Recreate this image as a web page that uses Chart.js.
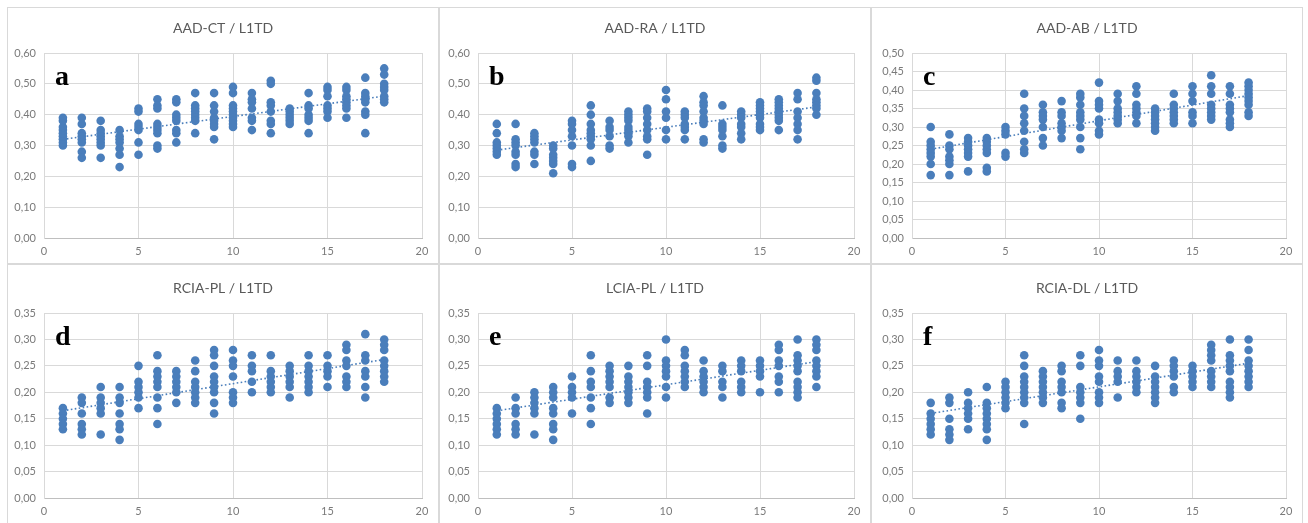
<!DOCTYPE html>
<html>
<head>
<meta charset="utf-8">
<script src="https://cdn.jsdelivr.net/npm/chart.js@4"></script>
<style>
  body { margin: 0; background: #fff; width: 1308px; height: 523px; overflow: hidden; position: relative; }
  .panel { position: absolute; width: 432px; box-sizing: border-box; border: 1px solid #d9d9d9; background: #fff; }
  .panel canvas { position: absolute; left: 0; top: 0; }
</style>
</head>
<body>
<div class="panel" style="left:7px;top:7px;height:257px"><canvas id="cA" width="430" height="255"></canvas></div>
<div class="panel" style="left:439px;top:7px;height:257px"><canvas id="cB" width="430" height="255"></canvas></div>
<div class="panel" style="left:871px;top:7px;height:257px"><canvas id="cC" width="430" height="255"></canvas></div>
<div class="panel" style="left:7px;top:264px;height:262px"><canvas id="cD" width="430" height="258"></canvas></div>
<div class="panel" style="left:439px;top:264px;height:262px"><canvas id="cE" width="430" height="258"></canvas></div>
<div class="panel" style="left:871px;top:264px;height:262px"><canvas id="cF" width="430" height="258"></canvas></div>
<script>
// Valores: una lista por cada x (1..18)
const xValues = [1, 2, 3, 4, 5, 6, 7, 8, 9, 10, 11, 12, 13, 14, 15, 16, 17, 18];

const aadCT = [
  [0.30, 0.31, 0.32, 0.33, 0.34, 0.35, 0.36, 0.38, 0.39],
  [0.39, 0.37, 0.34, 0.33, 0.32, 0.31, 0.28, 0.26],
  [0.38, 0.35, 0.34, 0.33, 0.32, 0.31, 0.30, 0.26],
  [0.35, 0.33, 0.32, 0.31, 0.29, 0.27, 0.23],
  [0.42, 0.41, 0.37, 0.36, 0.35, 0.31, 0.27],
  [0.45, 0.43, 0.42, 0.37, 0.36, 0.35, 0.34, 0.30, 0.29],
  [0.45, 0.44, 0.40, 0.39, 0.38, 0.35, 0.34, 0.31],
  [0.47, 0.43, 0.42, 0.41, 0.40, 0.39, 0.38, 0.34],
  [0.47, 0.43, 0.41, 0.39, 0.38, 0.37, 0.36, 0.32],
  [0.49, 0.47, 0.43, 0.42, 0.41, 0.40, 0.39, 0.38, 0.37, 0.36],
  [0.47, 0.45, 0.44, 0.42, 0.39, 0.38, 0.35],
  [0.51, 0.50, 0.44, 0.43, 0.41, 0.38, 0.37, 0.34],
  [0.42, 0.41, 0.40, 0.39, 0.38, 0.37],
  [0.47, 0.43, 0.42, 0.40, 0.39, 0.38, 0.34],
  [0.49, 0.48, 0.46, 0.43, 0.42, 0.41, 0.39],
  [0.49, 0.48, 0.46, 0.45, 0.44, 0.43, 0.42, 0.39],
  [0.52, 0.47, 0.46, 0.45, 0.44, 0.41, 0.40, 0.34],
  [0.55, 0.53, 0.50, 0.49, 0.48, 0.46, 0.45, 0.44]
];

const aadRA = [
  [0.37, 0.34, 0.31, 0.30, 0.29, 0.28, 0.27],
  [0.37, 0.32, 0.31, 0.30, 0.28, 0.27, 0.24, 0.23],
  [0.34, 0.33, 0.32, 0.31, 0.28, 0.27, 0.24],
  [0.30, 0.29, 0.27, 0.26, 0.25, 0.24, 0.21],
  [0.38, 0.37, 0.35, 0.33, 0.30, 0.24, 0.23],
  [0.43, 0.40, 0.37, 0.35, 0.34, 0.33, 0.32, 0.30, 0.25],
  [0.38, 0.36, 0.35, 0.33, 0.30, 0.29],
  [0.41, 0.40, 0.39, 0.38, 0.36, 0.35, 0.34, 0.33, 0.31],
  [0.42, 0.41, 0.39, 0.37, 0.35, 0.33, 0.32, 0.27],
  [0.48, 0.45, 0.41, 0.39, 0.35, 0.32],
  [0.41, 0.40, 0.39, 0.37, 0.36, 0.35, 0.32],
  [0.46, 0.44, 0.43, 0.41, 0.39, 0.38, 0.37, 0.32, 0.31],
  [0.43, 0.37, 0.36, 0.35, 0.33, 0.30, 0.29],
  [0.41, 0.40, 0.39, 0.37, 0.36, 0.34, 0.32],
  [0.44, 0.43, 0.42, 0.41, 0.40, 0.39, 0.37, 0.36, 0.35],
  [0.45, 0.44, 0.43, 0.42, 0.41, 0.40, 0.39, 0.38, 0.35],
  [0.47, 0.45, 0.41, 0.39, 0.37, 0.35, 0.32],
  [0.52, 0.51, 0.47, 0.45, 0.44, 0.43, 0.42, 0.40]
];

const aadAB = [
  [0.30, 0.26, 0.25, 0.24, 0.23, 0.22, 0.20, 0.17],
  [0.28, 0.25, 0.24, 0.22, 0.21, 0.20, 0.17],
  [0.27, 0.26, 0.25, 0.24, 0.23, 0.22, 0.18],
  [0.27, 0.26, 0.25, 0.24, 0.23, 0.19, 0.18],
  [0.30, 0.29, 0.28, 0.23, 0.22],
  [0.39, 0.35, 0.33, 0.31, 0.29, 0.26, 0.24, 0.23],
  [0.36, 0.34, 0.33, 0.32, 0.30, 0.27, 0.25],
  [0.37, 0.34, 0.33, 0.31, 0.30, 0.29, 0.27],
  [0.39, 0.38, 0.36, 0.34, 0.33, 0.32, 0.30, 0.27, 0.24],
  [0.42, 0.37, 0.36, 0.35, 0.32, 0.31, 0.29, 0.28],
  [0.39, 0.37, 0.35, 0.34, 0.33, 0.32, 0.31],
  [0.41, 0.39, 0.36, 0.35, 0.34, 0.33, 0.31],
  [0.35, 0.34, 0.33, 0.32, 0.31, 0.30, 0.29],
  [0.39, 0.36, 0.35, 0.34, 0.33, 0.32, 0.31],
  [0.41, 0.39, 0.37, 0.34, 0.33, 0.31],
  [0.44, 0.41, 0.39, 0.36, 0.35, 0.34, 0.33, 0.32],
  [0.41, 0.39, 0.36, 0.35, 0.34, 0.32, 0.31, 0.30],
  [0.42, 0.41, 0.40, 0.39, 0.38, 0.37, 0.36, 0.34, 0.33]
];

const rciaPL = [
  [0.17, 0.16, 0.15, 0.14, 0.13],
  [0.19, 0.18, 0.16, 0.14, 0.13, 0.12],
  [0.21, 0.19, 0.18, 0.17, 0.16, 0.12],
  [0.21, 0.19, 0.18, 0.16, 0.14, 0.13, 0.11],
  [0.25, 0.22, 0.21, 0.20, 0.19, 0.17],
  [0.27, 0.24, 0.23, 0.22, 0.21, 0.19, 0.17, 0.14],
  [0.24, 0.23, 0.22, 0.21, 0.20, 0.18],
  [0.26, 0.24, 0.22, 0.21, 0.20, 0.19, 0.18],
  [0.28, 0.27, 0.25, 0.23, 0.22, 0.21, 0.20, 0.18, 0.16],
  [0.28, 0.26, 0.25, 0.23, 0.20, 0.19, 0.18],
  [0.27, 0.25, 0.24, 0.22, 0.20],
  [0.27, 0.24, 0.23, 0.22, 0.21, 0.20],
  [0.25, 0.24, 0.23, 0.22, 0.21, 0.19],
  [0.27, 0.25, 0.24, 0.23, 0.22, 0.21, 0.20],
  [0.27, 0.25, 0.24, 0.23, 0.21],
  [0.29, 0.28, 0.26, 0.25, 0.23, 0.22, 0.21],
  [0.31, 0.27, 0.26, 0.24, 0.23, 0.21, 0.19],
  [0.30, 0.29, 0.28, 0.26, 0.25, 0.24, 0.23, 0.22]
];

const lciaPL = [
  [0.17, 0.16, 0.15, 0.14, 0.13, 0.12],
  [0.19, 0.17, 0.16, 0.14, 0.13, 0.12],
  [0.20, 0.19, 0.18, 0.17, 0.16, 0.12],
  [0.21, 0.20, 0.19, 0.17, 0.16, 0.14, 0.13, 0.11],
  [0.23, 0.21, 0.20, 0.19, 0.16],
  [0.27, 0.24, 0.22, 0.21, 0.19, 0.17, 0.14],
  [0.25, 0.24, 0.23, 0.22, 0.21, 0.19, 0.18],
  [0.25, 0.23, 0.22, 0.21, 0.20, 0.19, 0.18],
  [0.27, 0.25, 0.22, 0.21, 0.20, 0.19, 0.16],
  [0.30, 0.26, 0.25, 0.24, 0.23, 0.21, 0.19],
  [0.28, 0.27, 0.25, 0.24, 0.23, 0.22, 0.21],
  [0.26, 0.24, 0.23, 0.22, 0.21, 0.20],
  [0.25, 0.24, 0.22, 0.21, 0.19],
  [0.26, 0.25, 0.24, 0.22, 0.21, 0.20],
  [0.26, 0.25, 0.24, 0.23, 0.20],
  [0.29, 0.28, 0.26, 0.25, 0.23, 0.22, 0.20],
  [0.30, 0.27, 0.26, 0.25, 0.24, 0.22, 0.21, 0.20, 0.19],
  [0.30, 0.29, 0.28, 0.26, 0.25, 0.24, 0.23, 0.21]
];

const rciaDL = [
  [0.18, 0.16, 0.15, 0.14, 0.13, 0.12],
  [0.19, 0.18, 0.15, 0.13, 0.12, 0.11],
  [0.20, 0.18, 0.17, 0.16, 0.15, 0.13],
  [0.21, 0.18, 0.17, 0.16, 0.15, 0.14, 0.13, 0.11],
  [0.22, 0.21, 0.20, 0.19, 0.18, 0.17],
  [0.27, 0.25, 0.23, 0.22, 0.21, 0.20, 0.19, 0.18, 0.14],
  [0.24, 0.23, 0.22, 0.21, 0.20, 0.19, 0.18],
  [0.25, 0.24, 0.22, 0.21, 0.20, 0.18, 0.17],
  [0.27, 0.25, 0.21, 0.20, 0.19, 0.18, 0.15],
  [0.28, 0.26, 0.25, 0.23, 0.22, 0.20, 0.19, 0.18],
  [0.26, 0.24, 0.23, 0.22, 0.19],
  [0.26, 0.24, 0.23, 0.22, 0.21, 0.20],
  [0.25, 0.23, 0.22, 0.21, 0.20, 0.19, 0.18],
  [0.26, 0.25, 0.24, 0.23, 0.21, 0.20],
  [0.25, 0.24, 0.23, 0.22, 0.21],
  [0.29, 0.28, 0.27, 0.26, 0.24, 0.23, 0.22, 0.21],
  [0.30, 0.27, 0.26, 0.25, 0.24, 0.22, 0.21, 0.20, 0.19],
  [0.30, 0.28, 0.26, 0.25, 0.24, 0.23, 0.22, 0.21]
];

// Línea de tendencia (valor en x=1 y en x=18)
const trendA = [0.320, 0.460];
const trendB = [0.285, 0.425];
const trendC = [0.240, 0.385];
const trendD = [0.165, 0.262];
const trendE = [0.165, 0.258];
const trendF = [0.160, 0.255];

const titles = ['AAD-CT / L1TD', 'AAD-RA / L1TD', 'AAD-AB / L1TD', 'RCIA-PL / L1TD', 'LCIA-PL / L1TD', 'RCIA-DL / L1TD'];
const letters = ['a', 'b', 'c', 'd', 'e', 'f'];
const yMax = [0.60, 0.60, 0.50, 0.35, 0.35, 0.35];
const yStep = [0.10, 0.10, 0.05, 0.05, 0.05, 0.05];

const blue = '#4a7ebb';

// Título centrado en el panel y letra en la esquina superior izquierda
const panelTextPlugin = {
  id: 'panelText',
  afterDraw(chart) {
    const ctx = chart.ctx;
    const area = chart.chartArea;
    const opts = chart.options.plugins.panelText;
    ctx.save();
    ctx.font = '14px Lato, "Open Sans", sans-serif';
    ctx.fillStyle = '#595959';
    ctx.textAlign = 'center';
    ctx.textBaseline = 'middle';
    ctx.fillText(opts.title, chart.width / 2, opts.titleY);
    ctx.font = 'bold 28px "Liberation Serif", "DejaVu Serif", serif';
    ctx.fillStyle = '#000';
    ctx.textAlign = 'left';
    ctx.textBaseline = 'alphabetic';
    ctx.fillText(opts.letter, area.left + 11, area.top + 32);
    ctx.restore();
  }
};

function makeChart(id, idx, columns, trend, row) {
  const points = [];
  columns.forEach((col, i) => {
    col.forEach(v => points.push({ x: xValues[i], y: v }));
  });
  const colLeft = [36, 38, 40][idx % 3];
  new Chart(document.getElementById(id), {
    type: 'scatter',
    data: {
      datasets: [{
        data: points,
        backgroundColor: blue,
        borderWidth: 0,
        pointRadius: 4.3,
        pointHoverRadius: 4.3
      }, {
        type: 'line',
        data: [{ x: xValues[0], y: trend[0] }, { x: xValues[xValues.length - 1], y: trend[1] }],
        borderColor: blue,
        borderWidth: 1.6,
        borderDash: [1.6, 2.4],
        pointRadius: 0,
        fill: false
      }]
    },
    options: {
      responsive: false,
      animation: false,
      events: [],
      layout: { padding: { left: colLeft - 35, right: 16, top: row === 0 ? 45 : 48, bottom: 5 } },
      plugins: {
        legend: { display: false },
        tooltip: { enabled: false },
        title: { display: false },
        panelText: { title: titles[idx], letter: letters[idx], titleY: row === 0 ? 20 : 23 }
      },
      scales: {
        x: {
          type: 'linear',
          min: 0,
          max: 20,
          ticks: { stepSize: 5, color: '#7a7a7a', padding: 7, font: { family: 'Lato, "Open Sans", sans-serif', size: 11 } },
          grid: { color: '#d9d9d9', drawTicks: false },
          border: { color: '#bfbfbf' },
          afterFit(scale) { scale.height = 20; }
        },
        y: {
          min: 0,
          max: yMax[idx],
          ticks: {
            stepSize: yStep[idx],
            color: '#7a7a7a',
            padding: 8,
            font: { family: 'Lato, "Open Sans", sans-serif', size: 11 },
            callback: v => v.toFixed(2).replace('.', ',')
          },
          grid: { color: '#d9d9d9', drawTicks: false },
          border: { color: '#d9d9d9' },
          afterFit(scale) { scale.width = 35; }
        }
      }
    },
    plugins: [panelTextPlugin]
  });
}

makeChart('cA', 0, aadCT, trendA, 0);
makeChart('cB', 1, aadRA, trendB, 0);
makeChart('cC', 2, aadAB, trendC, 0);
makeChart('cD', 3, rciaPL, trendD, 1);
makeChart('cE', 4, lciaPL, trendE, 1);
makeChart('cF', 5, rciaDL, trendF, 1);
</script>
</body>
</html>
